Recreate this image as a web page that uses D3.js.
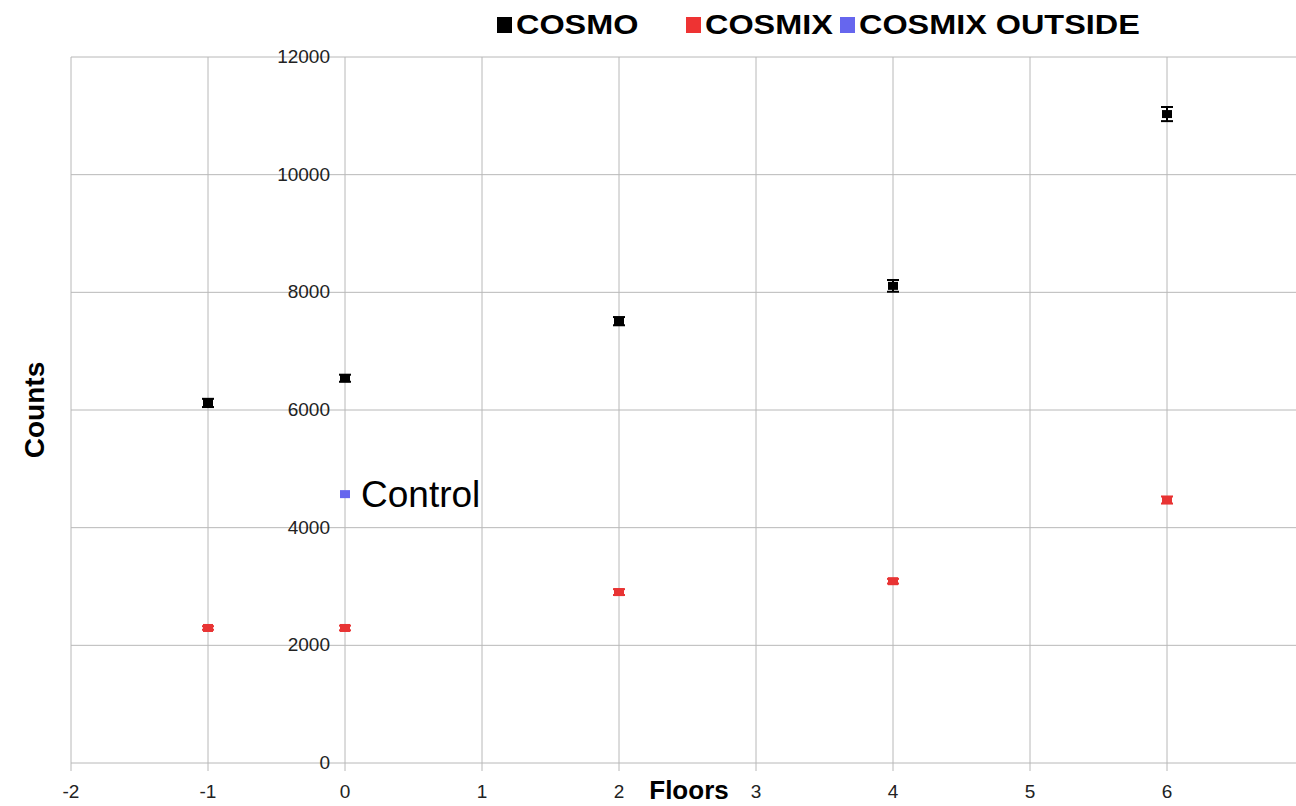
<!DOCTYPE html>
<html>
<head>
<meta charset="utf-8">
<title>Counts per floor</title>
<script src="https://cdnjs.cloudflare.com/ajax/libs/d3/7.8.5/d3.min.js"></script>
<style>
  body { margin: 0; background: #fff; }
  text { font-family: "Liberation Sans", Arial, sans-serif; }
  .grid line { stroke: #b8b8b8; stroke-width: 1px; }
</style>
</head>
<body>
<div id="canvas"></div>
<script>
// floors measured
var floors = [-1, 0, 2, 4, 6];
// COSMO counts and error
var cosmo = [6120, 6540, 7510, 8110, 11030];
var cosmoErr = [70, 60, 70, 100, 120];
// COSMIX counts and error
var cosmix = [2295, 2295, 2905, 3090, 4470];
var cosmixErr = [30, 40, 50, 40, 60];
// control measurement outside
var outsideFloor = [0];
var outside = [4570];

var xTicks = [-2, -1, 0, 1, 2, 3, 4, 5, 6, 7];
var xLabels = [-2, -1, 0, 1, 2, 3, 4, 5, 6];
var yTicks = [0, 2000, 4000, 6000, 8000, 10000, 12000];

var width = 1296, height = 806;

var x = d3.scaleLinear().domain([-2, 7]).range([71, 1304]);
var y = d3.scaleLinear().domain([0, 12000]).range([763, 57]);

var svg = d3.select("#canvas").append("svg")
  .attr("width", width)
  .attr("height", height);

/* grid */
var grid = svg.append("g").attr("class", "grid");
grid.selectAll("line.v")
  .data(xTicks)
  .enter().append("line")
  .attr("class", "v")
  .attr("x1", function (d) { return x(d); })
  .attr("x2", function (d) { return x(d); })
  .attr("y1", y(12000))
  .attr("y2", y(0) + 8);

grid.selectAll("line.h")
  .data(yTicks)
  .enter().append("line")
  .attr("class", "h")
  .attr("x1", x(-2))
  .attr("x2", x(7))
  .attr("y1", function (d) { return y(d); })
  .attr("y2", function (d) { return y(d); });

/* tick labels */
svg.append("g").selectAll("text")
  .data(xLabels)
  .enter().append("text")
  .attr("x", function (d) { return x(d); })
  .attr("y", 798)
  .attr("text-anchor", "middle")
  .attr("font-size", 19)
  .attr("fill", "#222")
  .text(function (d) { return d; });

svg.append("g").selectAll("text")
  .data(yTicks)
  .enter().append("text")
  .attr("x", x(0) - 15)
  .attr("y", function (d) { return y(d) + 6; })
  .attr("text-anchor", "end")
  .attr("font-size", 19)
  .attr("fill", "#222")
  .text(function (d) { return d; });

/* axis titles */
svg.append("text")
  .attr("x", 689).attr("y", 799)
  .attr("text-anchor", "middle")
  .attr("font-size", 26)
  .attr("font-weight", "bold")
  .text("Floors");

svg.append("text")
  .attr("transform", "translate(44,410) rotate(-90)")
  .attr("text-anchor", "middle")
  .attr("font-size", 28)
  .attr("font-weight", "bold")
  .text("Counts");

/* series with error bars */
function drawSeries(xs, ys, errs, color) {
  var g = svg.append("g");
  var pts = xs.map(function (d, i) { return { x: d, y: ys[i], e: errs ? errs[i] : 0 }; });
  var cap = 6;
  pts.forEach(function (p) {
    if (p.e > 0) {
      g.append("line")
        .attr("x1", x(p.x)).attr("x2", x(p.x))
        .attr("y1", y(p.y + p.e)).attr("y2", y(p.y - p.e))
        .attr("stroke", color).attr("stroke-width", 2);
      [p.y + p.e, p.y - p.e].forEach(function (v) {
        g.append("line")
          .attr("x1", x(p.x) - cap).attr("x2", x(p.x) + cap)
          .attr("y1", y(v)).attr("y2", y(v))
          .attr("stroke", color).attr("stroke-width", 2);
      });
    }
  });
  g.selectAll("rect")
    .data(pts)
    .enter().append("rect")
    .attr("x", function (d) { return x(d.x) - 5; })
    .attr("y", function (d) { return y(d.y) - 4; })
    .attr("width", 10)
    .attr("height", 8)
    .attr("fill", color);
}

drawSeries(floors, cosmo, cosmoErr, "#000000");
drawSeries(floors, cosmix, cosmixErr, "#e83434");
drawSeries(outsideFloor, outside, null, "#6666ee");

svg.append("text")
  .attr("x", x(0) + 16)
  .attr("y", y(outside[0]) + 13)
  .attr("font-size", 37)
  .text("Control");

/* legend */
var legend = [
  { name: "COSMO", color: "#000000", x: 497 },
  { name: "COSMIX", color: "#ee3333", x: 686 },
  { name: "COSMIX OUTSIDE", color: "#6666ee", x: 840 }
];
var lg = svg.append("g");
legend.forEach(function (d) {
  lg.append("rect")
    .attr("x", d.x).attr("y", 17)
    .attr("width", 15).attr("height", 16)
    .attr("fill", d.color);
  lg.append("text")
    .attr("transform", "translate(" + (d.x + 19) + ",34) scale(1.2,1)")
    .attr("font-size", 27)
    .attr("font-weight", "bold")
    .text(d.name);
});
</script>
</body>
</html>
